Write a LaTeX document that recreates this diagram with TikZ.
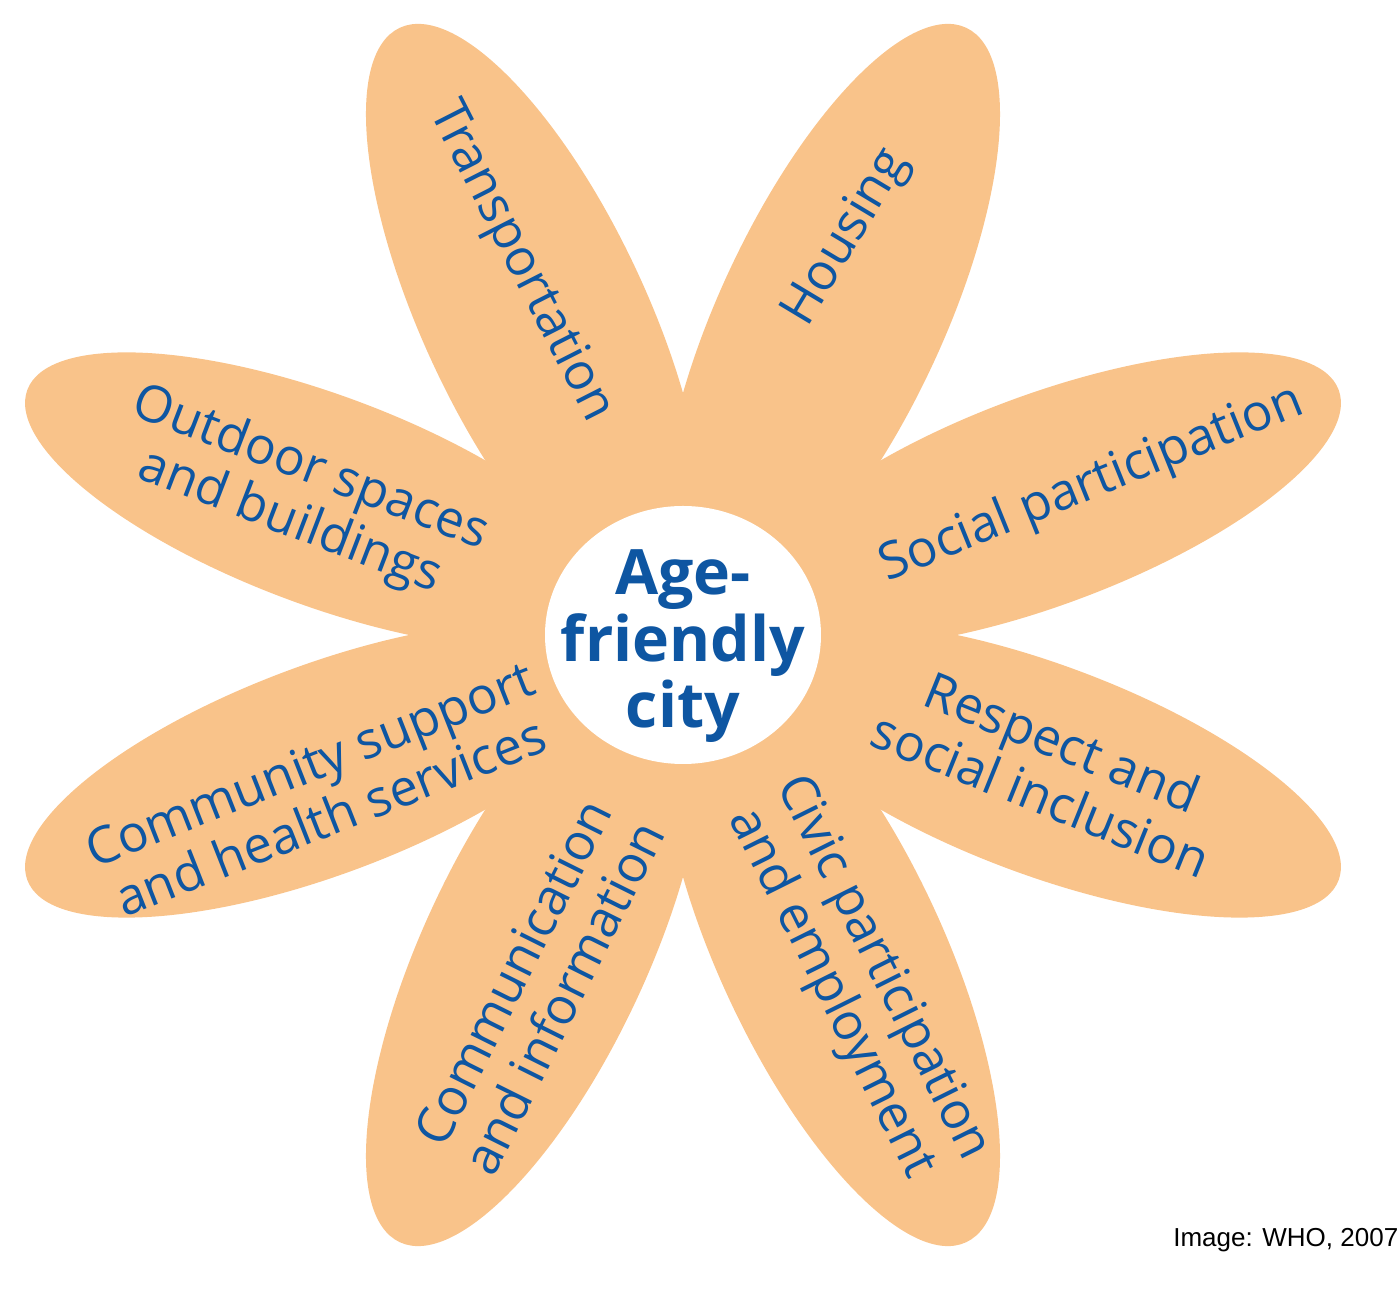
\documentclass[tikz,border=0pt]{standalone}
\usepackage{fontspec}
\setmainfont{Open Sans}
\setsansfont{Liberation Sans}
\usetikzlibrary{shapes.geometric}
\definecolor{petalorange}{RGB}{249,195,138}
\definecolor{whoblue}{RGB}{14,86,162}

\begin{document}
\begin{tikzpicture}[
	petal/.style={ellipse, fill=petalorange, inner sep=0pt, minimum width=6.4cm, minimum height=2.24cm},
	sidepetal/.style={petal, minimum width=6.3cm, minimum height=2.1cm},
	petaltext/.style={text=whoblue, align=center, inner sep=0pt, font=\fontsize{14.5}{16.2}\selectfont},
	hubtext/.style={text=whoblue, align=center, inner sep=0pt, font=\fontsize{17.8}{16.4}\selectfont\bfseries}]

		\useasboundingbox (-6.83,-6.59) rectangle (7.17,6.35);

		% TOP AND BOTTOM PETALS
		\node[petal, rotate=115] (ptransport) at (115:3.5) {};
		\node[petal, rotate=65] (phousing) at (65:3.5) {};
		\node[petal, rotate=-65] (pcivic) at (-65:3.5) {};
		\node[petal, rotate=-115] (pcomm) at (-115:3.5) {};

		% SIDE PETALS
		\node[sidepetal, rotate=20.5] (psocial) at (20.5:3.85) {};
		\node[sidepetal, rotate=-20.5] (prespect) at (-20.5:3.85) {};
		\node[sidepetal, rotate=200.5] (pcommunity) at (200.5:3.85) {};
		\node[sidepetal, rotate=159.5] (poutdoor) at (159.5:3.85) {};

		% CENTRE
		\node[ellipse, fill=white, inner sep=0pt, minimum width=2.76cm, minimum height=2.58cm] (hub) at (0,0) {};
		\node[hubtext] (hublabel) at (0,-0.11) {Age-\\friendly\\city};

		% LABELS
		\node[petaltext, rotate=-63] (ttransport) at (-1.63,3.73) {Transportation};
		\node[petaltext, rotate=59] (thousing) at (1.64,3.97) {Housing};
		\node[petaltext, rotate=22] (tsocial) at (4.09,1.50) {Social participation};
		\node[petaltext, rotate=-22] (trespect) at (3.69,-1.33) {Respect and\\social inclusion};
		\node[petaltext, rotate=-63.5] (tcivic) at (1.73,-3.46) {Civic participation\\and employment};
		\node[petaltext, rotate=63.5] (tcomm) at (-1.45,-3.50) {Communication\\and information};
		\node[petaltext, rotate=21.5] (tcommunity) at (-3.63,-1.55) {Community support\\and health services};
		\node[petaltext, rotate=-21] (toutdoor) at (-3.83,1.39) {Outdoor spaces\\and buildings};

		\node[anchor=base east, inner sep=0pt, font=\sffamily\fontsize{7.4}{9}\selectfont] (credit) at (7.16,-6.12) {Image: WHO, 2007};
	\end{tikzpicture}
\end{document}
